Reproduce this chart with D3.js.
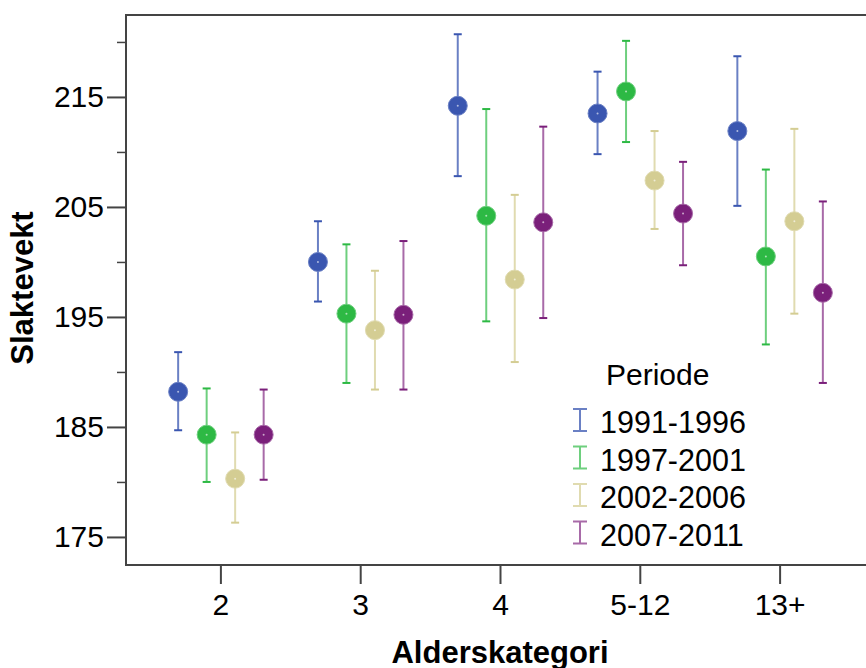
<!DOCTYPE html>
<html lang="no">
<head>
<meta charset="UTF-8">
<title>Slaktevekt</title>
<script src="https://d3js.org/d3.v7.min.js"></script>
<style>
body,html{margin:0;padding:0;background:#fff;}
text{font-family:"Liberation Sans",Arial,sans-serif;fill:#000;}
</style>
</head>
<body>
<svg width="866" height="668"></svg>
<script>
// categories and periods
const categories = ["2", "3", "4", "5-12", "13+"];
const periods = ["1991-1996", "1997-2001", "2002-2006", "2007-2011"];
const colors = ["#3a56b0", "#2db944", "#d4cd93", "#7a1f7a"];
const barColors = ["#6a80c4", "#6ecf7e", "#e0dbb0", "#a86aa8"];

// mean values, one array per period (order = categories)
const mean1991 = [188.2, 200.0, 214.2, 213.5, 211.9];
const mean1997 = [184.3, 195.3, 204.2, 215.5, 200.5];
const mean2002 = [180.3, 193.8, 198.4, 207.4, 203.7];
const mean2007 = [184.3, 195.2, 203.6, 204.4, 197.2];
// upper and lower ends of error bars
const hi1991 = [191.8, 203.7, 220.7, 217.3, 218.7];
const lo1991 = [184.7, 196.4, 207.8, 209.8, 205.1];
const hi1997 = [188.5, 201.6, 213.9, 220.1, 208.4];
const lo1997 = [180.0, 189.0, 194.6, 210.9, 192.5];
const hi2002 = [184.5, 199.2, 206.1, 211.9, 212.1];
const lo2002 = [176.3, 188.4, 190.9, 203.0, 195.3];
const hi2007 = [188.4, 201.9, 212.3, 209.1, 205.5];
const lo2007 = [180.2, 188.4, 194.9, 199.7, 189.0];

const yTicks = [175, 185, 195, 205, 215];
const yMinor = [180, 190, 200, 210, 220];

const means = [mean1991, mean1997, mean2002, mean2007];
const his = [hi1991, hi1997, hi2002, hi2007];
const los = [lo1991, lo1997, lo2002, lo2007];

let points = [];
periods.forEach((p, i) => {
  categories.forEach((c, j) => {
    points.push({cat: c, period: p, i: i, mean: means[i][j], hi: his[i][j], lo: los[i][j]});
  });
});

const svg = d3.select("svg");
const plotLeft = 126, plotTop = 15, plotBottom = 565, plotRight = 870;

const x = d3.scaleBand().domain(categories).range([151, 850]);
const xInner = d3.scaleBand().domain(periods).range([-57, 57]);
const y = d3.scaleLinear().domain([172.45, 222.45]).range([plotBottom, plotTop]);

// frame
svg.append("path")
  .attr("d", `M${plotRight},${plotTop}H${plotLeft}V${plotBottom}H${plotRight}`)
  .attr("fill", "none").attr("stroke", "#444").attr("stroke-width", 2);

// y axis
const yAxis = svg.append("g").attr("transform", `translate(${plotLeft},0)`)
  .call(d3.axisLeft(y).tickValues(yTicks).tickSize(19).tickPadding(3).tickFormat(d3.format("d")));
yAxis.select(".domain").remove();
yAxis.selectAll("line").attr("stroke", "#444").attr("stroke-width", 2);
yAxis.selectAll("text").attr("font-size", 30).attr("font-family", "Liberation Sans, Arial, sans-serif").attr("fill", "#000");

const yMinorAxis = svg.append("g").attr("transform", `translate(${plotLeft},0)`)
  .call(d3.axisLeft(y).tickValues(yMinor).tickSize(9).tickFormat(""));
yMinorAxis.select(".domain").remove();
yMinorAxis.selectAll("line").attr("stroke", "#444").attr("stroke-width", 1.5);

// x axis
const xAxis = svg.append("g").attr("transform", `translate(0,${plotBottom})`)
  .call(d3.axisBottom(x).tickSize(19).tickPadding(10));
xAxis.select(".domain").remove();
xAxis.selectAll("line").attr("stroke", "#444").attr("stroke-width", 2);
xAxis.selectAll("text").attr("font-size", 30).attr("font-family", "Liberation Sans, Arial, sans-serif").attr("fill", "#000");

// axis titles
svg.append("text")
  .attr("x", 500).attr("y", 663)
  .attr("text-anchor", "middle")
  .attr("font-size", 31).attr("font-weight", "bold")
  .text("Alderskategori");

svg.append("text")
  .attr("transform", "translate(33,288) rotate(-90)")
  .attr("text-anchor", "middle")
  .attr("font-size", 31).attr("font-weight", "bold")
  .text("Slaktevekt");

// error bars
const cx = d => x(d.cat) + x.bandwidth() / 2 + xInner(d.period) + xInner.bandwidth() / 2;
const g = svg.append("g");
const bars = g.selectAll("g.bar").data(points).enter().append("g").attr("class", "bar");
bars.append("line")
  .attr("x1", cx).attr("x2", cx)
  .attr("y1", d => y(d.hi)).attr("y2", d => y(d.lo))
  .attr("stroke", d => barColors[d.i]).attr("stroke-width", 2);
bars.append("line")
  .attr("x1", d => cx(d) - 4).attr("x2", d => cx(d) + 4)
  .attr("y1", d => y(d.hi)).attr("y2", d => y(d.hi))
  .attr("stroke", d => colors[d.i]).attr("stroke-width", 2);
bars.append("line")
  .attr("x1", d => cx(d) - 4).attr("x2", d => cx(d) + 4)
  .attr("y1", d => y(d.lo)).attr("y2", d => y(d.lo))
  .attr("stroke", d => colors[d.i]).attr("stroke-width", 2);
bars.append("circle")
  .attr("cx", cx).attr("cy", d => y(d.mean)).attr("r", 9.5)
  .attr("fill", d => colors[d.i])
  .attr("stroke", d => barColors[d.i]).attr("stroke-width", 1);
bars.append("circle")
  .attr("cx", cx).attr("cy", d => y(d.mean)).attr("r", 1)
  .attr("fill", "#fff").attr("opacity", 0.6);

// legend
svg.append("text").attr("x", 606).attr("y", 385).attr("font-size", 30).text("Periode");
const leg = svg.append("g").selectAll("g").data(periods).enter().append("g")
  .attr("transform", (d, i) => `translate(0,${433 + i * 37.5})`);
leg.append("path")
  .attr("d", "M573,-24H587M580,-24V-2M573,-2H587")
  .attr("fill", "none")
  .attr("stroke", (d, i) => barColors[i]).attr("stroke-width", 2);
leg.append("text").attr("x", 600).attr("y", 0).attr("font-size", 30.5).text(d => d);
</script>
</body>
</html>
